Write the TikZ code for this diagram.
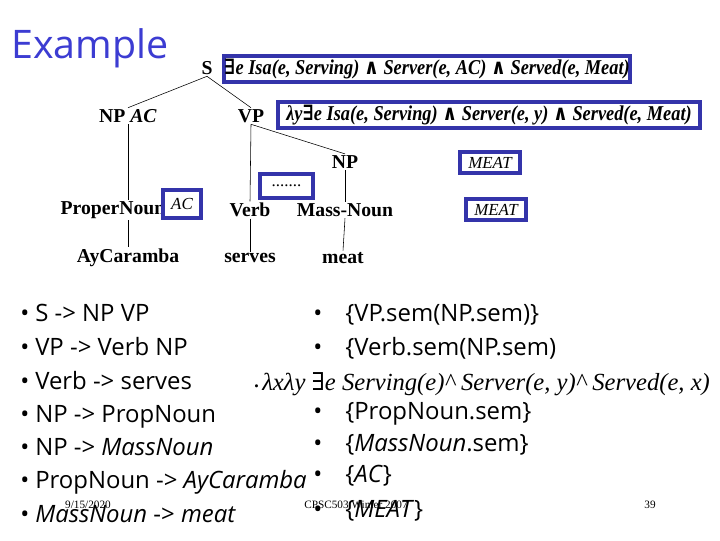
\documentclass[tikz,border=0pt]{standalone}
\usepackage{fontspec}
\setmainfont{Liberation Serif}
\newfontfamily\comic{Open Sans}
\newfontfamily\symf{DejaVu Serif}
\definecolor{boxblue}{RGB}{52,52,170}
\definecolor{titleblue}{RGB}{60,60,210}

\begin{document}
\begin{tikzpicture}[x=0.025cm,y=-0.025cm,
  lbl/.style={font=\fontsize{14}{16}\selectfont\bfseries,inner sep=1pt},
  sem/.style={draw=boxblue,line width=2.8pt,inner sep=0pt,minimum height=0.65cm,
    font=\fontsize{15}{17}\selectfont\bfseries\itshape},
  val/.style={draw=boxblue,line width=2.8pt,inner sep=0pt,font=\fontsize{12}{14}\selectfont\itshape},
  rule/.style={anchor=base west,inner sep=0pt,font=\comic\fontsize{17}{19}\selectfont},
  foot/.style={font=\fontsize{8}{9}\selectfont}]
 \useasboundingbox (0,0) rectangle (720,540);
 \node[font=\comic\fontsize{28}{30}\selectfont,text=titleblue] (title) at (90,48) {Example}; %title

 \node[lbl] (S) at (207,68) {S}; %tree
 \node[lbl] (NPa) at (128,116) {NP \textit{AC}};
 \node[lbl] (VP) at (251,116) {VP};
 \node[lbl] (NPb) at (345,162) {NP};
 \node[lbl] (PN) at (113,210) {ProperNoun};
 \node[lbl] (Verb) at (250,210) {Verb};
 \node[lbl] (MN) at (345,210) {Mass-Noun};
 \node[lbl] (AyC) at (128,258) {AyCaramba};
 \node[lbl] (serves) at (250,258) {serves};
 \node[lbl] (meat) at (343,258) {meat};
 \draw (S.south) -- (NPa.north);
 \draw (S.south) -- (VP.north);
 \draw (VP.south) -- (NPb.north);
 \draw (NPa.south) -- (NPa.south |- PN.north);
 \draw (VP.south) -- (Verb.north);
 \draw (NPb.south) -- (MN.north);
 \draw (AyC.north |- PN.south) -- (AyC.north);
 \draw (Verb.south) -- (serves.north);
 \draw (MN.south) -- (meat.north);

 \node[sem,minimum width=10.15cm] (Ssem) at (427,69)
   {\scalebox{0.87}[1]{{\symf\bfseries ∃}e Isa(e, Serving) {\symf\bfseries ∧} Server(e, AC)
    {\symf\bfseries ∧} Served(e, Meat)}}; %S.sem
 \node[sem,minimum width=10.55cm] (VPsem) at (489,115)
   {\scalebox{0.87}[1]{λy{\symf\bfseries ∃}e Isa(e, Serving) {\symf\bfseries ∧} Server(e, y)
    {\symf\bfseries ∧} Served(e, Meat)}}; %VP.sem
 \node[val,minimum width=1.5cm,minimum height=0.525cm] (NPsem) at (490,162.5) {MEAT};
 \node[val,minimum width=0.95cm,minimum height=0.7cm] (PNsem) at (182,204) {AC};
 \node[val,minimum width=1.325cm,minimum height=0.6cm,font=\fontsize{12}{14}\selectfont] (Vsem) at (286.5,186) {.......};
 \node[val,minimum width=1.5cm,minimum height=0.525cm] (MNsem) at (496,209.5) {MEAT};

 \foreach \t/\y [count=\i] in {{S -> NP VP}/321, {VP -> Verb NP}/355, {Verb -> serves}/389,
   {NP -> PropNoun}/422, {NP -> \textit{MassNoun}}/455, {PropNoun -> \textit{AyCaramba}}/488,
   {\textit{MassNoun} -> \textit{meat}}/522}
   \node[rule] (l\i) at (20,\y) {\makebox[0.375cm][l]{•}\t}; %rules
 \foreach \t/\y [count=\i] in {{\{VP.sem(NP.sem)\}}/321, {\{Verb.sem(NP.sem)}/355,
   {\{PropNoun.sem\}}/419, {\{\textit{MassNoun}.sem\}}/451, {\{\textit{AC}\}}/482,
   {\{\textit{MEAT}\}}/517}
   \node[rule] (r\i) at (313,\y) {\makebox[0.8cm][l]{•}\t}; %semantics
 \node[anchor=base west,inner sep=0pt,font=\fontsize{17.5}{19}\selectfont] (lam) at (254,390)
   {\makebox[0.2cm][l]{\fontsize{9}{9}\selectfont•}\itshape λxλy {\symf\upshape ∃}e
    Serving(e)\textasciicircum{} Server(e, y)\textasciicircum{} Served(e, x)};

 \node[foot] (date) at (88,505) {9/15/2020}; %footer
 \node[foot] (course) at (356,505) {CPSC503 Winter 2007};
 \node[foot] (page) at (650,505) {39};
\end{tikzpicture}
\end{document}
